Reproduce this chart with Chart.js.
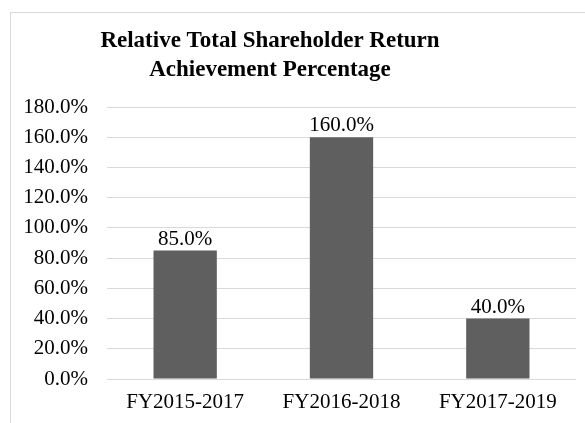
<!DOCTYPE html>
<html>
<head>
<meta charset="utf-8">
<script src="https://cdn.jsdelivr.net/npm/chart.js@4.4.0/dist/chart.umd.min.js"></script>
<style>
  html, body { margin: 0; padding: 0; background: #ffffff; overflow: hidden; }
  #frame { position: absolute; left: 10px; top: 12px; width: 700px; height: 500px;
           border-left: 1px solid #d9d9d9; border-top: 1px solid #d9d9d9; }
  #wrap { position: absolute; left: 0; top: 0; width: 585px; height: 423px; }
  canvas { display: block; }
</style>
</head>
<body>
<div id="frame"></div>
<div id="wrap"><canvas id="c" width="585" height="423"></canvas></div>
<script>
const categories = ["FY2015-2017", "FY2016-2018", "FY2017-2019"];
const values = [85.0, 160.0, 40.0];
const yTicks = [0, 20, 40, 60, 80, 100, 120, 140, 160, 180];
const titleLines = ["Relative Total Shareholder Return", "Achievement Percentage"];

const FONT = "'Liberation Serif', 'Times New Roman', serif";

const valueLabels = {
  id: 'valueLabels',
  afterDatasetsDraw(chart) {
    const ctx = chart.ctx;
    const meta = chart.getDatasetMeta(0);
    ctx.save();
    ctx.font = "21px " + FONT;
    ctx.fillStyle = "#000000";
    ctx.textAlign = "center";
    ctx.textBaseline = "alphabetic";
    meta.data.forEach((bar, i) => {
      const v = chart.data.datasets[0].data[i];
      ctx.fillText(v.toFixed(1) + "%", bar.x, bar.y - 6);
    });
    ctx.restore();
  }
};

const titleText = {
  id: 'titleText',
  afterDraw(chart) {
    const ctx = chart.ctx;
    ctx.save();
    ctx.font = "bold 23px " + FONT;
    ctx.fillStyle = "#000000";
    ctx.textAlign = "center";
    ctx.textBaseline = "middle";
    ctx.fillText(titleLines[0], 270, 41.5);
    ctx.fillText(titleLines[1], 270, 70.5);
    ctx.restore();
  }
};

new Chart(document.getElementById('c'), {
  type: 'bar',
  data: {
    labels: categories,
    datasets: [{
      data: values,
      backgroundColor: '#5f5f5f',
      borderWidth: 0,
      barPercentage: 0.405,
      categoryPercentage: 1.0
    }]
  },
  options: {
    responsive: false,
    animation: false,
    devicePixelRatio: 1,
    layout: { padding: { left: 11, right: 9, top: 107, bottom: 8 } },
    plugins: {
      legend: { display: false },
      tooltip: { enabled: false },
      title: { display: false }
    },
    scales: {
      x: {
        afterFit(scale) { scale.height = 36; },
        grid: { display: false, drawTicks: false },
        border: { display: false },
        ticks: { color: '#000000', font: { family: FONT, size: 21 }, padding: 11, maxRotation: 0 }
      },
      y: {
        min: 0, max: 180,
        afterFit(scale) { scale.width = 96; },
        afterBuildTicks(scale) { scale.ticks = yTicks.map(v => ({ value: v })); },
        grid: { color: '#d9d9d9', lineWidth: 1, drawTicks: false },
        border: { display: false },
        ticks: {
          color: '#000000',
          font: { family: FONT, size: 21 },
          padding: 19,
          callback: (v) => Number(v).toFixed(1) + '%'
        }
      }
    }
  },
  plugins: [valueLabels, titleText]
});
</script>
</body>
</html>
